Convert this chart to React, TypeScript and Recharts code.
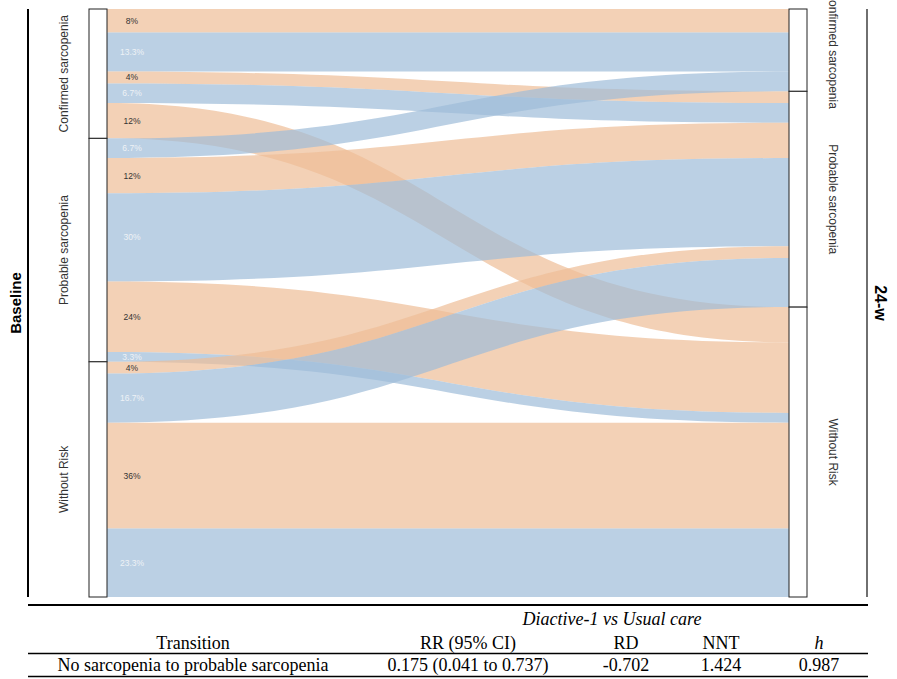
import React from "react";
import { Sankey } from "recharts";

const stages = ["Baseline", "24-w"];
const states = ["Confirmed sarcopenia", "Probable sarcopenia", "Without Risk"];
const groups = ["Diactive-1", "Usual care"];

// % of each group going from a baseline state (row) to a 24-w state (column)
const diactiveFlows = [
  [8, 4, 12],
  [0, 12, 24],
  [0, 4, 36],
];
const usualCareFlows = [
  [13.3, 6.7, 0],
  [6.7, 30, 3.3],
  [0, 16.7, 23.3],
];

const tableTitle = "Diactive-1 vs Usual care";
const tableHeaders = ["Transition", "RR (95% CI)", "RD", "NNT", "h"];
const tableRow = [
  "No sarcopenia to probable sarcopenia",
  "0.175 (0.041 to 0.737)",
  "-0.702",
  "1.424",
  "0.987",
];

const W = 897;
const H = 679;
const SANS = "'Liberation Sans', Arial, sans-serif";
const SERIF = "'Liberation Serif', 'Times New Roman', serif";
const groupFill = ["#EEBD97", "#9EBCD8"];
const groupText = ["#333333", "#eef2f6"];
const colX = [193, 468, 626, 721, 819];

const nodes = [
  ...states.map((name) => ({ name, stage: 0 })),
  ...states.map((name) => ({ name, stage: 1 })),
];

const links: { source: number; target: number; value: number; group: number }[] = [];
states.forEach((_, i) => {
  states.forEach((__, j) => {
    [diactiveFlows, usualCareFlows].forEach((flows, g) => {
      const v = flows[i][j];
      if (v > 0) links.push({ source: i, target: states.length + j, value: v, group: g });
    });
  });
});

function Ribbon(props: any) {
  const { sourceX, targetX, sourceY, targetY, sourceControlX, targetControlX, linkWidth, payload } = props;
  const h = linkWidth / 2;
  const d =
    `M${sourceX},${sourceY - h} C${sourceControlX},${sourceY - h} ${targetControlX},${targetY - h} ${targetX},${targetY - h} ` +
    `L${targetX},${targetY + h} C${targetControlX},${targetY + h} ${sourceControlX},${sourceY + h} ${sourceX},${sourceY + h} Z`;
  const g = payload.group;
  return (
    <g>
      <path d={d} fill={groupFill[g]} fillOpacity={0.7} stroke="none" />
      <text
        x={sourceX + 25}
        y={sourceY}
        dy="0.35em"
        textAnchor="middle"
        fontSize={8.5}
        fontFamily={SANS}
        fill={groupText[g]}
      >
        {`${payload.value}%`}
      </text>
    </g>
  );
}

function StateNode(props: any) {
  const { x, y, width, height, payload } = props;
  const cy = y + height / 2;
  const left = payload.stage === 0;
  const lx = left ? x - 21.5 : x + width + 22;
  return (
    <g>
      <rect x={x} y={y} width={width} height={height} fill="#fff" stroke="#222" strokeWidth={1} />
      <text
        transform={`translate(${lx},${cy}) rotate(${left ? -90 : 90})`}
        textAnchor="middle"
        fontSize={12}
        fontFamily={SANS}
        fill="#333"
      >
        {payload.name}
      </text>
    </g>
  );
}

export default function App() {
  return (
    <div style={{ position: "absolute", left: 0, top: 0, width: W, height: H, background: "#fff" }}>
      <Sankey
        width={W}
        height={H}
        data={{ nodes, links }}
        nodeWidth={18}
        nodePadding={0}
        iterations={0}
        margin={{ top: 9, left: 89, right: 90, bottom: 82 }}
        link={Ribbon}
        node={StateNode}
      />
      <svg
        width={W}
        height={H}
        style={{ position: "absolute", left: 0, top: 0, pointerEvents: "none" }}
      >
        <line x1={28} y1={9} x2={28} y2={597} stroke="#000" strokeWidth={2} />
        <line x1={867} y1={9} x2={867} y2={597} stroke="#222" strokeWidth={1.3} />
        <text
          transform="translate(21,303) rotate(-90)"
          textAnchor="middle"
          fontSize={15}
          fontWeight="bold"
          fontFamily={SANS}
        >
          {stages[0]}
        </text>
        <text
          transform="translate(875,303) rotate(90)"
          textAnchor="middle"
          fontSize={16}
          fontWeight="bold"
          fontFamily={SANS}
        >
          {stages[1]}
        </text>

        <line x1={28} y1={605} x2={868} y2={605} stroke="#000" strokeWidth={2} />
        <text x={612} y={625} textAnchor="middle" fontSize={18} fontStyle="italic" fontFamily={SERIF}>
          {tableTitle}
        </text>
        {tableHeaders.map((t, i) => (
          <text
            key={t}
            x={colX[i]}
            y={649}
            textAnchor="middle"
            fontSize={18}
            fontStyle={i === 4 ? "italic" : "normal"}
            fontFamily={SERIF}
          >
            {t}
          </text>
        ))}
        <line x1={28} y1={653.5} x2={868} y2={653.5} stroke="#000" strokeWidth={1.6} />
        {tableRow.map((t, i) => (
          <text key={i} x={colX[i]} y={670.5} textAnchor="middle" fontSize={18} fontFamily={SERIF}>
            {t}
          </text>
        ))}
        <line x1={28} y1={676.5} x2={868} y2={676.5} stroke="#000" strokeWidth={1.6} />
      </svg>
    </div>
  );
}
